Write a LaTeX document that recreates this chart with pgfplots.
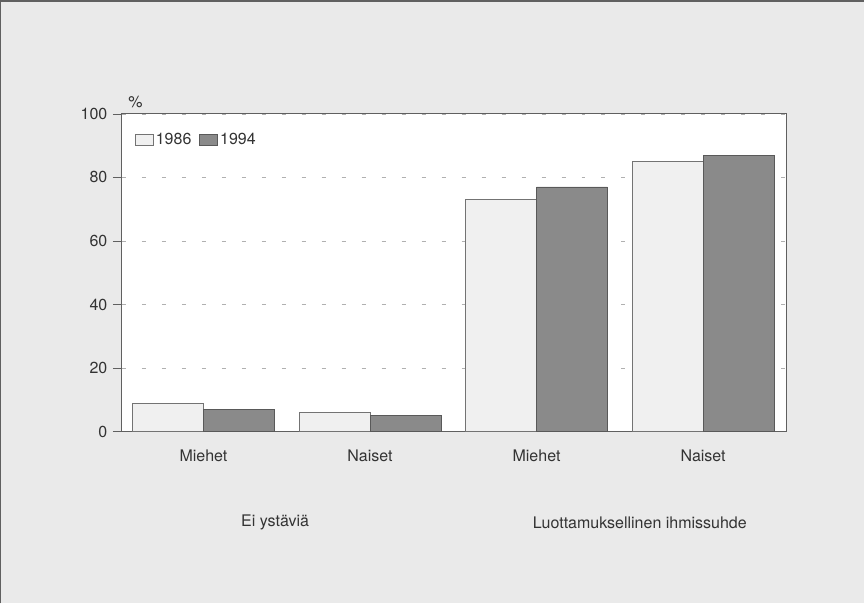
\documentclass[border=0pt]{standalone}
\usepackage{pgfplots}
\pgfplotsset{compat=1.18}
\usepackage{fontspec}
\setmainfont{TeX Gyre Heros}
\definecolor{bggray}{HTML}{EAEAEA}
\definecolor{lightbar}{HTML}{F0F0F0}
\definecolor{darkbar}{HTML}{8A8A8A}
\definecolor{axisgray}{HTML}{606060}
\definecolor{gridgray}{HTML}{B0B0B0}
\begin{document}
\begin{tikzpicture}
\fill[bggray] (0,0) rectangle (865bp,604bp);
\draw[axisgray, line width=1.5bp] (0.75bp,0) -- (0.75bp,603bp) -- (865bp,603bp);
\begin{axis}[
  at={(122bp,172bp)}, anchor=south west,
  width=665bp, height=318bp, scale only axis,
  xmin=-0.49, xmax=3.5, ymin=0, ymax=100,
  ybar=0pt, bar width=0.426,
  axis background/.style={fill=white},
  axis line style={axisgray, line width=0.8bp},
  xtick={0,1,2,3},
  xticklabels={Miehet,Naiset,Miehet,Naiset},
  xtick style={draw=none},
  ytick={0,20,40,60,80,100},
  ytick pos=left,
  ytick style={axisgray, line width=0.6bp},
  tick align=outside, major tick length=9bp,
  ymajorgrids, grid style={gridgray, dash pattern=on 4bp off 16bp, line width=0.6bp},
  tick label style={font=\fontsize{16bp}{19bp}\selectfont, text=black!80},
  /pgf/number format/assume math mode=true,
  xticklabel style={yshift=-6bp},
  yticklabel style={xshift=-2bp},
  clip=false,
  legend columns=2,
  legend style={draw=none, fill=none, at={(rel axis cs:0,1)}, anchor=north west,
    xshift=10bp, yshift=-15bp, font=\fontsize{16bp}{19bp}\selectfont, text=black!80,
    /tikz/every even column/.append style={column sep=6bp}},
  legend image code/.code={\draw[#1] (0bp,-5.5bp) rectangle (18bp,5.5bp);},
]
\addplot[fill=lightbar, draw=black!55, line width=0.8bp] coordinates {(0,9) (1,6) (2,73) (3,85)};
\addplot[fill=darkbar, draw=black!65, line width=0.8bp] coordinates {(0,7) (1,5) (2,77) (3,87)};
\legend{1986,1994}
\node[font=\fontsize{16bp}{19bp}\selectfont, text=black!80, anchor=south west] at (rel axis cs:0,1) [xshift=3bp, yshift=3bp] {\%};
\node[font=\fontsize{16bp}{19bp}\selectfont, text=black!80] at (axis cs:0.43,0) [yshift=-91bp] {Ei ystäviä};
\node[font=\fontsize{16bp}{19bp}\selectfont, text=black!80] at (axis cs:2.62,0) [yshift=-91bp] {Luottamuksellinen ihmissuhde};
\end{axis}
\end{tikzpicture}
\end{document}
